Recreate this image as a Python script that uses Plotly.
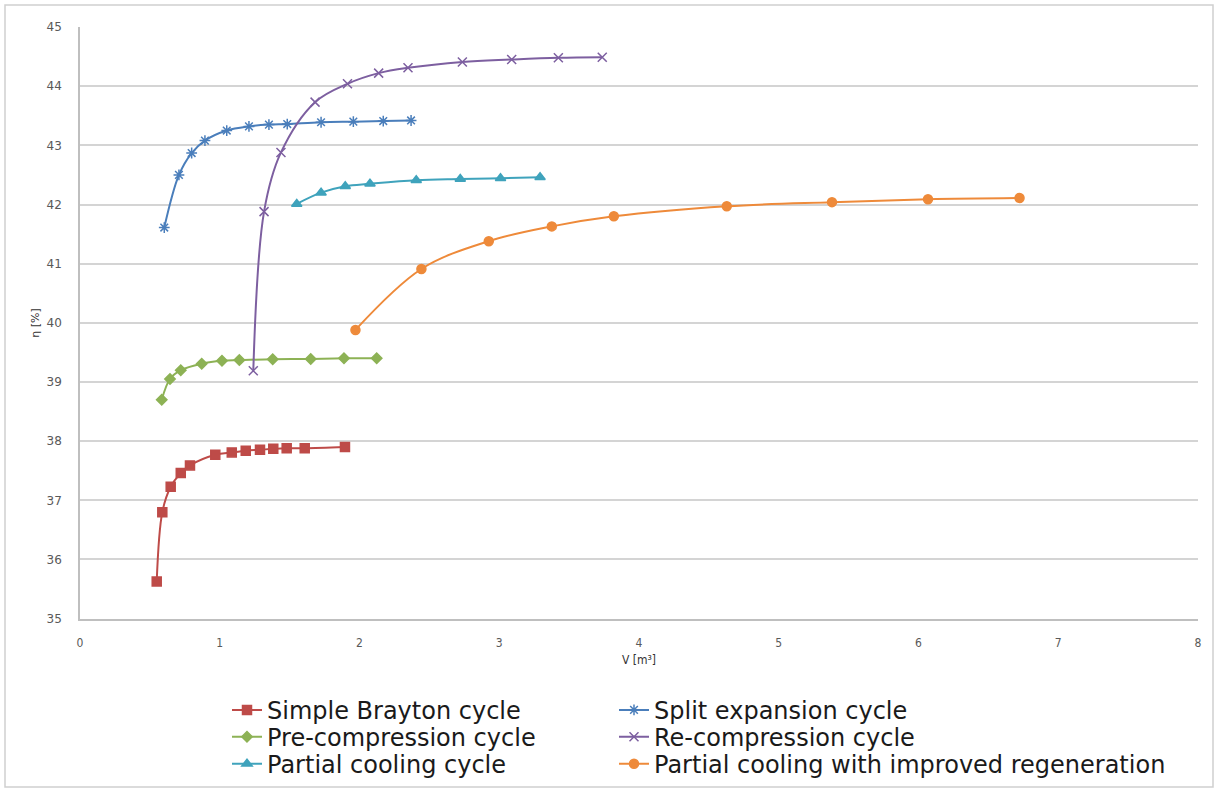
import plotly.graph_objects as go

# ---- data ----
brayton_x = [0.549, 0.589, 0.649, 0.721, 0.787, 0.968, 1.086, 1.186, 1.288, 1.383, 1.479, 1.608, 1.896]
brayton_y = [35.63, 36.80, 37.23, 37.46, 37.59, 37.77, 37.81, 37.84, 37.855, 37.87, 37.88, 37.88, 37.90]

precomp_x = [0.585, 0.644, 0.721, 0.871, 1.016, 1.140, 1.379, 1.651, 1.889, 2.123]
precomp_y = [38.70, 39.05, 39.20, 39.31, 39.36, 39.37, 39.385, 39.39, 39.40, 39.40]

partial_x = [1.551, 1.725, 1.898, 2.075, 2.406, 2.721, 3.009, 3.292]
partial_y = [42.01, 42.20, 42.31, 42.35, 42.41, 42.43, 42.445, 42.46]

split_x = [0.603, 0.708, 0.799, 0.894, 1.050, 1.209, 1.352, 1.483, 1.725, 1.956, 2.170, 2.369]
split_y = [41.61, 42.50, 42.87, 43.08, 43.25, 43.32, 43.35, 43.36, 43.39, 43.40, 43.41, 43.42]

recomp_x = [1.240, 1.317, 1.438, 1.682, 1.914, 2.137, 2.347, 2.736, 3.089, 3.423, 3.737]
recomp_y = [39.19, 41.88, 42.88, 43.73, 44.04, 44.22, 44.31, 44.41, 44.45, 44.48, 44.49]

improved_x = [1.971, 2.443, 2.925, 3.376, 3.820, 4.628, 5.381, 6.068, 6.723]
improved_y = [39.88, 40.91, 41.38, 41.63, 41.80, 41.97, 42.04, 42.09, 42.11]

x_ticks = [0, 1, 2, 3, 4, 5, 6, 7, 8]
y_ticks = [35, 36, 37, 38, 39, 40, 41, 42, 43, 44, 45]

W, H = 1219, 795
L, R, T, B = 80, 21, 27, 8
pw, ph = W - L - R, H - T - B
PLOT_BOTTOM = 621  # pixel row of the x axis

def px_to_paper_x(px):
    return (px - L) / pw

def px_to_paper_y(py):
    return (H - B - py) / ph

legend_font = dict(family="DejaVu Sans, sans-serif", size=24, color="#1a1a1a")

fig = go.Figure()
legends = {}

def add(name, xs, ys, color, symbol, size, legend, text_x, row_y):
    fig.add_trace(go.Scatter(
        x=xs, y=ys, name=name, mode="lines+markers",
        line=dict(color=color, width=2, shape="spline"),
        marker=dict(symbol=symbol, size=size, color=color,
                    line=dict(color=color, width=1.5)),
        legend=legend,
    ))
    legends[legend] = dict(x=px_to_paper_x(text_x - 41), y=px_to_paper_y(row_y),
                           xanchor="left", yanchor="middle", font=legend_font,
                           orientation="v", bgcolor="rgba(0,0,0,0)", itemwidth=30,
                           borderwidth=0)

add("Simple Brayton cycle", brayton_x, brayton_y, "#BE4B48", "square", 9, "legend", 268, 713)
add("Pre-compression cycle", precomp_x, precomp_y, "#8DB255", "diamond", 8, "legend2", 268, 740)
add("Partial cooling cycle", partial_x, partial_y, "#3FA3BC", "triangle-up", 9, "legend3", 268, 767)
add("Split expansion cycle", split_x, split_y, "#4A7EBB", "asterisk-open", 9, "legend4", 655, 713)
add("Re-compression cycle", recomp_x, recomp_y, "#7D5FA0", "x-thin-open", 9, "legend5", 655, 740)
add("Partial cooling with improved regeneration", improved_x, improved_y, "#EE8A3A", "circle", 9,
    "legend6", 655, 767)

fig.update_layout(
    width=W, height=H,
    margin=dict(l=L, r=R, t=T, b=B),
    paper_bgcolor="white", plot_bgcolor="white",
    showlegend=True,
    **legends,
    xaxis=dict(range=[0, 8], tickvals=x_ticks, ticktext=[str(v) for v in x_ticks],
               showgrid=False, zeroline=False, showline=True, linecolor="#bfbfbf", linewidth=1.5,
               tickfont=dict(family="DejaVu Sans Condensed, DejaVu Sans, sans-serif", size=12, color="#595959"),
               ticks="", ticklabelstandoff=12, automargin=False),
    yaxis=dict(range=[35, 45], tickvals=y_ticks, ticktext=[str(v) for v in y_ticks],
               domain=[px_to_paper_y(PLOT_BOTTOM), 1],
               showgrid=True, gridcolor="#d4d4d4", gridwidth=1.5,
               zeroline=False, showline=True, linecolor="#bfbfbf", linewidth=1.5,
               tickfont=dict(family="DejaVu Sans, sans-serif", size=12, color="#595959"),
               ticks="", ticklabelstandoff=14, automargin=False),
    annotations=[
        dict(text="η [%]", x=px_to_paper_x(36), y=px_to_paper_y(324), xref="paper", yref="paper",
             xanchor="center", yanchor="middle", showarrow=False, textangle=-90,
             font=dict(family="DejaVu Sans, sans-serif", size=11, color="#333333")),
        dict(text="V [m³]", x=px_to_paper_x(639), y=px_to_paper_y(663), xref="paper", yref="paper",
             xanchor="center", yanchor="middle", showarrow=False,
             font=dict(family="DejaVu Sans Condensed, DejaVu Sans, sans-serif", size=12, color="#333333")),
    ],
    shapes=[
        dict(type="rect", xref="paper", yref="paper",
             x0=px_to_paper_x(5), x1=px_to_paper_x(1213),
             y0=px_to_paper_y(790), y1=px_to_paper_y(5),
             line=dict(color="#d0d0d0", width=1.5), layer="below"),
    ],
)

fig.write_html("out.html", config={"displayModeBar": False},
               post_script="document.body.style.margin='0px';")
